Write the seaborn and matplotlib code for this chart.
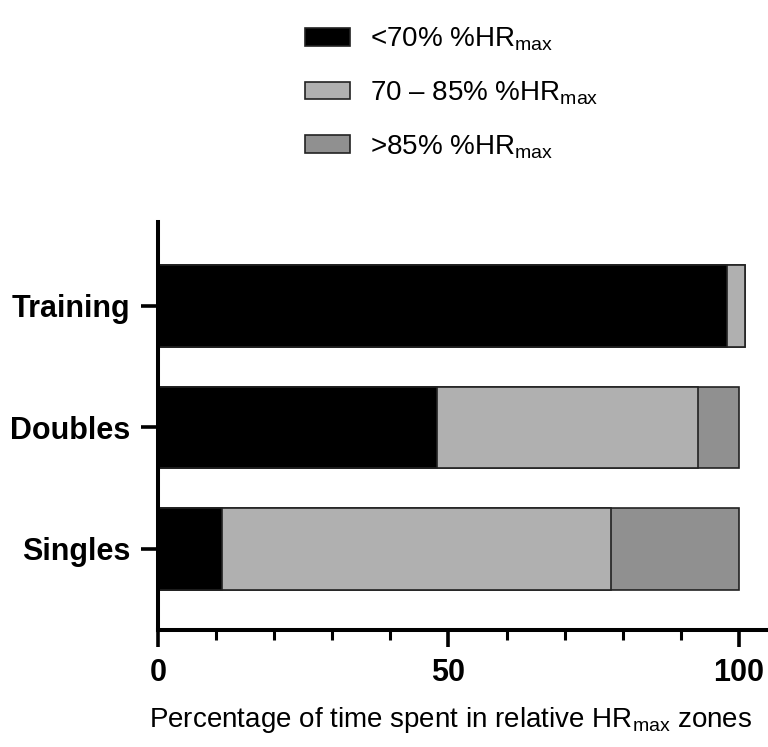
import matplotlib
matplotlib.use("Agg")
import matplotlib.pyplot as plt
from matplotlib.ticker import MultipleLocator
import seaborn as sns
import pandas as pd
import numpy as np

categories = ["Training", "Doubles", "Singles"]
zone_labels = [r"<70% %HR$_\mathrm{max}$", r"70 – 85% %HR$_\mathrm{max}$", r">85% %HR$_\mathrm{max}$"]
below70 = [98, 48, 11]
from70to85 = [3, 45, 67]
above85 = [0, 7, 22]
zone_colors = ["#000000", "#b0b0b0", "#909090"]
x_ticks = [0, 50, 100]
xlabel = r"Percentage of time spent in relative HR$_\mathrm{max}$ zones"

sns.set_theme(style="ticks")
plt.rcParams["font.family"] = ["Liberation Sans", "DejaVu Sans"]
plt.rcParams["mathtext.fontset"] = "custom"
plt.rcParams["mathtext.rm"] = "Liberation Sans"
plt.rcParams["mathtext.it"] = "Liberation Sans:italic"
plt.rcParams["mathtext.bf"] = "Liberation Sans:bold"
for k in ["text.color", "axes.labelcolor", "xtick.color", "ytick.color"]:
    plt.rcParams[k] = "black"

fig = plt.figure(figsize=(7.68, 7.47), dpi=100)
ax = fig.add_axes([158 / 768, 1 - 630 / 747, 1 - 158 / 768, (630 - 222) / 747])

zones = np.array([below70, from70to85, above85], dtype=float)
cum = np.cumsum(zones, axis=0)

for i in reversed(range(3)):
    df = pd.DataFrame({"category": categories, "value": cum[i]})
    sns.barplot(data=df, x="value", y="category", order=categories, orient="h",
                color=zone_colors[i], edgecolor="#222222", linewidth=1.2,
                width=0.67, saturation=1, ax=ax, label=zone_labels[i])

h, l = ax.get_legend_handles_labels()
if ax.get_legend() is not None:
    ax.get_legend().remove()
order = [l.index(z) for z in zone_labels]
leg = fig.legend([h[k] for k in order], [l[k] for k in order],
                 loc="upper left", bbox_to_anchor=(305 / 768, 0.966), frameon=False,
                 fontsize=20, handlelength=1.62, handleheight=0.61,
                 labelspacing=0.95, handletextpad=0.72, borderpad=0, borderaxespad=0)

ax.set_xlim(0, 105)
ax.set_ylim(2.667, -0.69)
ax.set_xticks(x_ticks)
ax.xaxis.set_minor_locator(MultipleLocator(10))
ax.set_xlabel(xlabel, fontsize=20, labelpad=14)
ax.xaxis.set_label_coords((451 - 158) / 610, -0.185)
ax.set_ylabel("")
for lab in ax.get_xticklabels() + ax.get_yticklabels():
    lab.set_fontweight("bold")
    lab.set_fontsize(22)

for s in ["top", "right"]:
    ax.spines[s].set_visible(False)
for s in ["left", "bottom"]:
    ax.spines[s].set_linewidth(2.9)
    ax.spines[s].set_color("black")
ax.tick_params(axis="both", which="major", length=12, width=2.6, color="black", pad=8)
ax.tick_params(axis="x", which="minor", length=7, width=2.2, color="black")
ax.tick_params(axis="y", which="minor", length=0)
ax.grid(False)

fig.savefig("out.png", dpi=100)
